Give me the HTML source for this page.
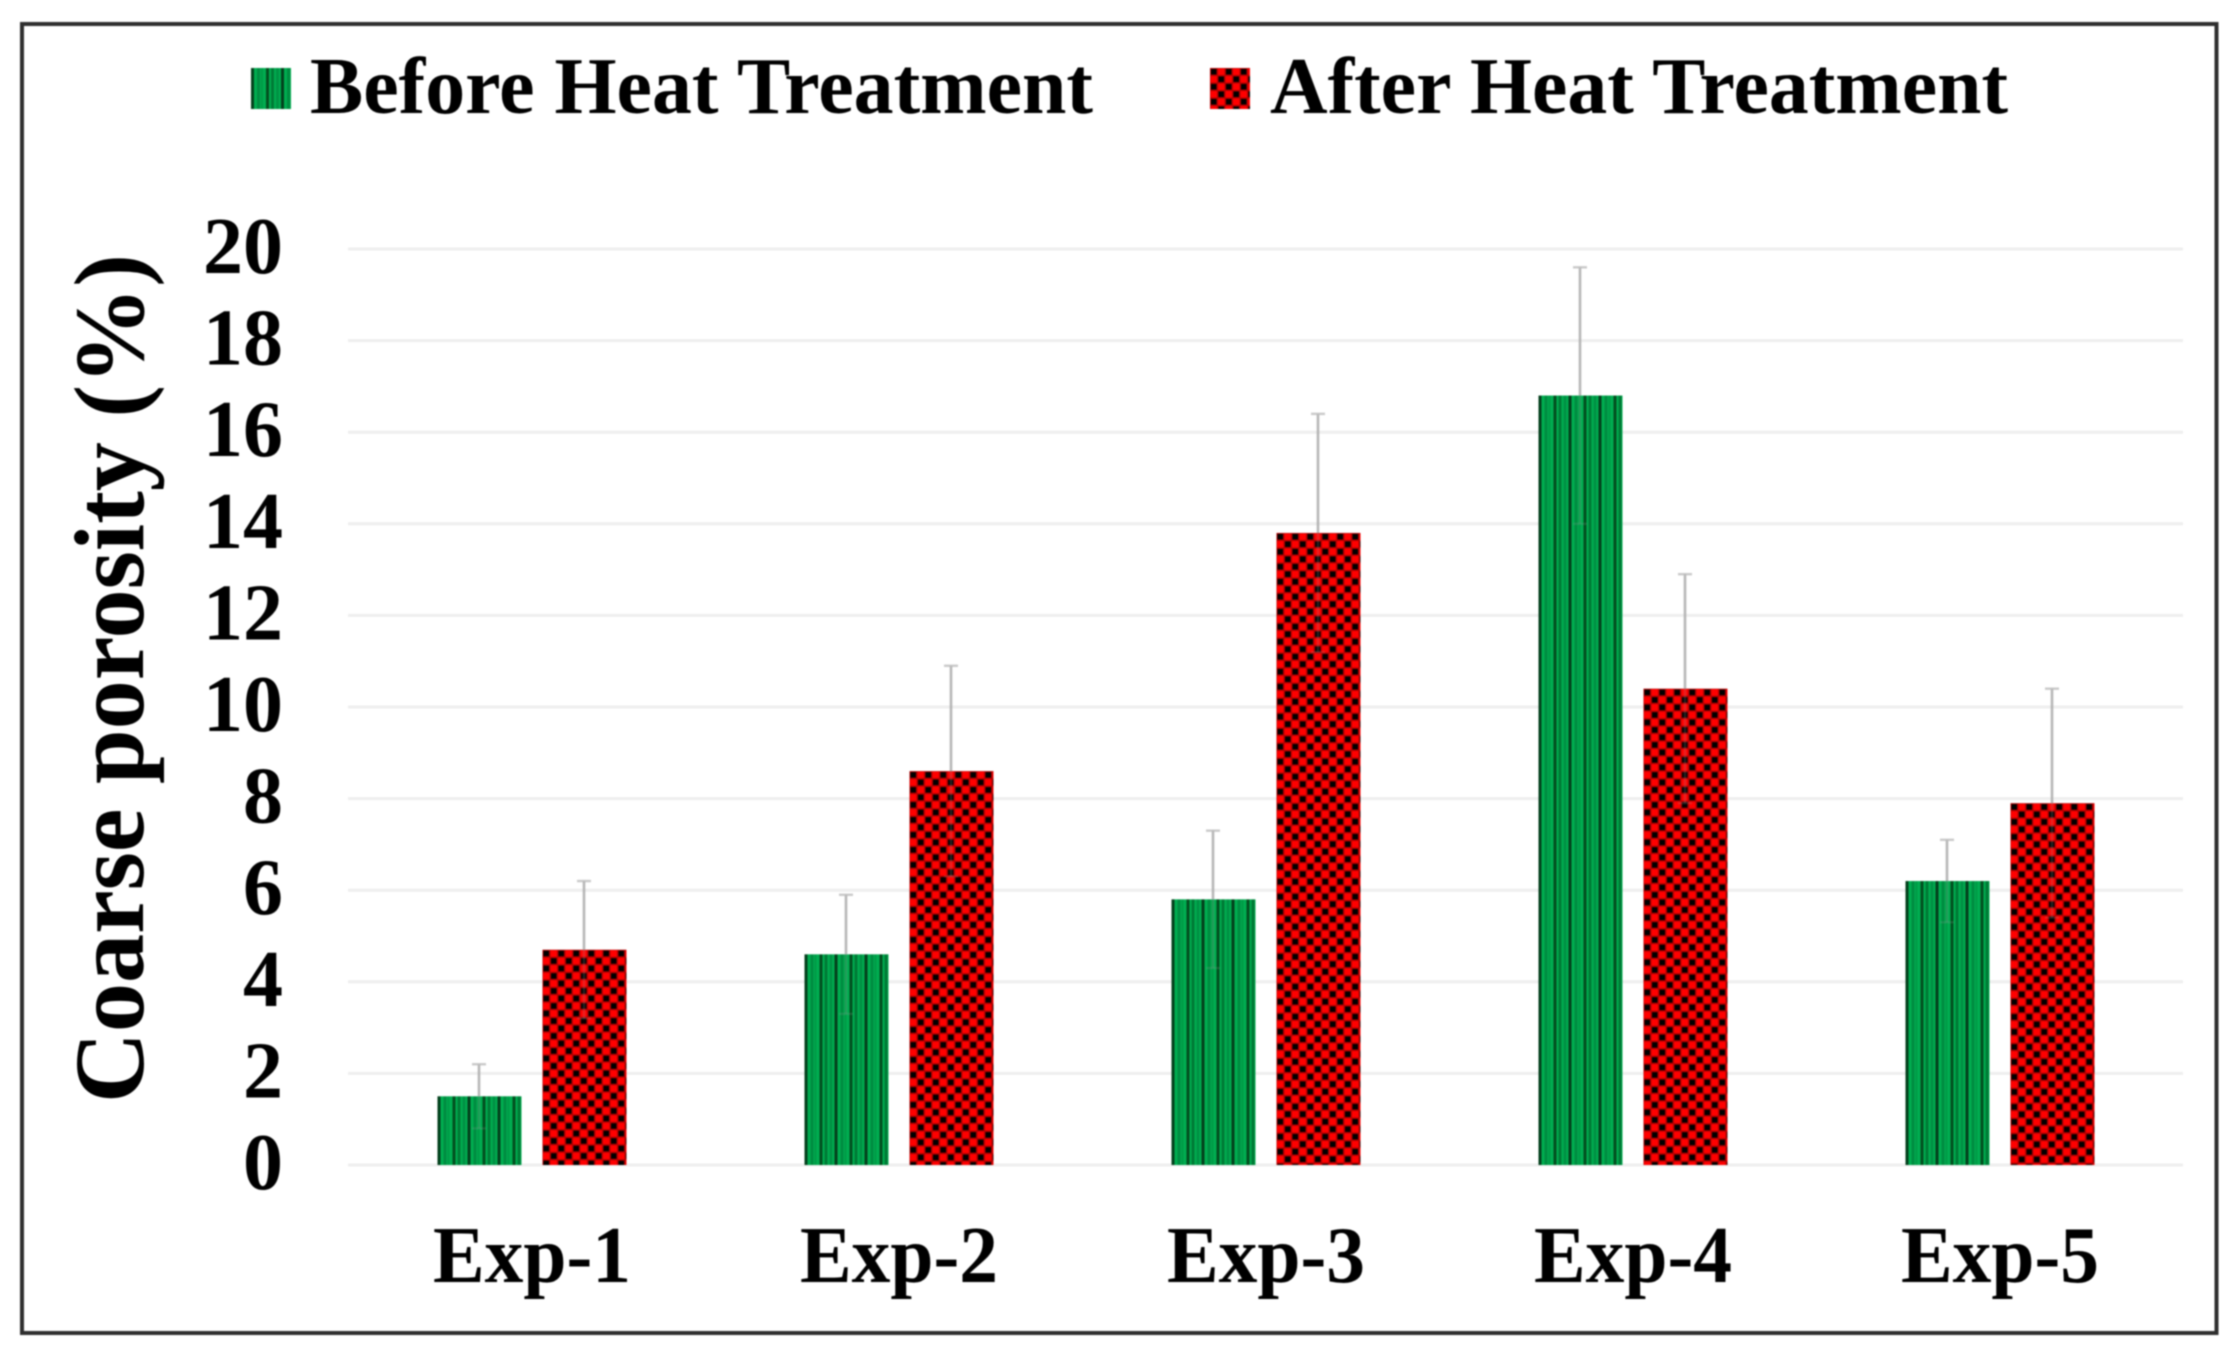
<!DOCTYPE html>
<html lang="en">
<head>
<meta charset="utf-8">
<title>Coarse porosity before and after heat treatment</title>
<style>
html,body{margin:0;padding:0;background:#fff;width:2238px;height:1358px;overflow:hidden}
svg{display:block}
text{font-family:"Liberation Serif",serif;font-weight:bold;fill:#000}
</style>
</head>
<body>
<svg id="chart" xmlns="http://www.w3.org/2000/svg" width="2238" height="1358" viewBox="0 0 2238 1358">
  <defs>
    <filter id="soft" x="0" y="0" width="100%" height="100%" color-interpolation-filters="sRGB"><feGaussianBlur stdDeviation="0.9"/></filter>
    <pattern id="stripes" patternUnits="userSpaceOnUse" x="0" y="0" width="30" height="30">
      <rect width="30" height="30" fill="#00ad50"/>
      <rect x="0" width="3" height="30" fill="#03401c"/>
      <rect x="6" width="3" height="30" fill="#008c40"/>
      <rect x="10" width="2" height="30" fill="#009a46"/>
      <rect x="15" width="3" height="30" fill="#02501f"/>
      <rect x="20" width="3" height="30" fill="#007a36"/>
      <rect x="25" width="3" height="30" fill="#009244"/>
    </pattern>
    <pattern id="checker" patternUnits="userSpaceOnUse" x="0" y="0" width="15" height="15">
      <rect width="15" height="15" fill="#b00000"/>
      <rect x="1" y="1" width="5.5" height="5.5" fill="#000"/>
      <rect x="8.5" y="8.5" width="5.5" height="5.5" fill="#000"/>
      <rect x="8" y="0.5" width="6.5" height="6.5" fill="#ff0000"/>
      <rect x="0.5" y="8" width="6.5" height="6.5" fill="#ff0000"/>
    </pattern>
  </defs>
  <g id="root" filter="url(#soft)">
    <rect x="0" y="0" width="2238" height="1358" fill="#fff"/>
    <rect x="22" y="24" width="2194.5" height="1309" fill="none" stroke="#2e2e2e" stroke-width="4"/>
    <g>
      <g>
        <rect x="0" y="0" width="40" height="41" transform="translate(251 68)" fill="url(#stripes)"/>
        <text x="310" y="113" font-size="80" textLength="783" lengthAdjust="spacingAndGlyphs">Before Heat Treatment</text>
      </g>
      <g>
        <rect x="0" y="0" width="40" height="41" transform="translate(1210 68)" fill="url(#checker)"/>
        <text x="1270" y="113" font-size="80" textLength="738" lengthAdjust="spacingAndGlyphs">After Heat Treatment</text>
      </g>
    </g>
    <text transform="translate(143 1103) rotate(-90)" x="0" y="0" font-size="100" textLength="849" lengthAdjust="spacingAndGlyphs">Coarse porosity (%)</text>
    <g id="grid"></g>
    <g id="yticks"></g>
    <g id="bars"></g>
    <g id="errors"></g>
    <g id="xticks"></g>
  </g>
</svg>
<script>
const categories = ["Exp-1", "Exp-2", "Exp-3", "Exp-4", "Exp-5"];
const beforeValues = [1.5, 4.6, 5.8, 16.8, 6.2];
const afterValues = [4.7, 8.6, 13.8, 10.4, 7.9];
const beforeErrors = [0.7, 1.3, 1.5, 2.8, 0.9];
const afterErrors = [1.5, 2.3, 2.6, 2.5, 2.5];
const yTicks = [0, 2, 4, 6, 8, 10, 12, 14, 16, 18, 20];

const NS = "http://www.w3.org/2000/svg";
const plotLeft = 348, plotRight = 2183, plotBottom = 1165, plotTop = 249, yMax = 20;
const barWidth = 84;

function yScale(v) {
  return plotBottom - (v / yMax) * (plotBottom - plotTop);
}
function xCenter(i) {
  return plotLeft + (i + 0.5) * (plotRight - plotLeft) / categories.length;
}
function make(tag, attrs) {
  const el = document.createElementNS(NS, tag);
  for (const k in attrs) el.setAttribute(k, attrs[k]);
  return el;
}

const grid = document.getElementById("grid");
const yticks = document.getElementById("yticks");
yTicks.forEach(function (t) {
  const line = make("line", { x1: plotLeft, x2: plotRight, y1: yScale(t), y2: yScale(t), stroke: "#eeeeee", "stroke-width": 3 });
  
  
  grid.appendChild(line);
  const label = make("text", { x: 283, y: yScale(t) + 24, "font-size": 80, "text-anchor": "end", textLength: String(t).length * 40, lengthAdjust: "spacingAndGlyphs" });
  label.textContent = t;
  
  
  yticks.appendChild(label);
});

const bars = document.getElementById("bars");
const errors = document.getElementById("errors");
const xticks = document.getElementById("xticks");

function drawBar(value, left, fill, name) {
  const top = yScale(value);
  const rect = make("rect", { x: 0, y: 0, width: barWidth, height: plotBottom - top, transform: "translate(" + left + " " + top + ")", fill: fill });
  
  
  bars.appendChild(rect);
}
function drawError(value, err, cx, name) {
  const g = make("g", {});
  
  
  g.appendChild(make("line", { x1: cx, x2: cx, y1: yScale(value), y2: yScale(value + err), stroke: "#aaaaaa", "stroke-width": 2.6, "stroke-opacity": 0.85 }));
  g.appendChild(make("line", { x1: cx, x2: cx, y1: yScale(value - err), y2: yScale(value), stroke: "#999999", "stroke-width": 2.6, "stroke-opacity": 0.22 }));
  g.appendChild(make("line", { x1: cx - 7, x2: cx + 7, y1: yScale(value + err), y2: yScale(value + err), stroke: "#bbbbbb", "stroke-width": 2.4, "stroke-opacity": 0.8 }));
  g.appendChild(make("line", { x1: cx - 7, x2: cx + 7, y1: yScale(value - err), y2: yScale(value - err), stroke: "#999999", "stroke-width": 2.2, "stroke-opacity": 0.2 }));
  errors.appendChild(g);
}

categories.forEach(function (cat, i) {
  const cx = xCenter(i);
  const n = i + 1;
  drawBar(beforeValues[i], cx - 94, "url(#stripes)", "bar-before-exp-" + n);
  drawBar(afterValues[i], cx + 11, "url(#checker)", "bar-after-exp-" + n);
  drawError(beforeValues[i], beforeErrors[i], cx - 52.5, "error-bar-before-exp-" + n);
  drawError(afterValues[i], afterErrors[i], cx + 52.5, "error-bar-after-exp-" + n);
  const label = make("text", { x: cx + 0.5, y: 1282, "font-size": 80, "text-anchor": "middle", textLength: 198, lengthAdjust: "spacingAndGlyphs" });
  label.textContent = cat;
  
  
  xticks.appendChild(label);
});
</script>
</body>
</html>
